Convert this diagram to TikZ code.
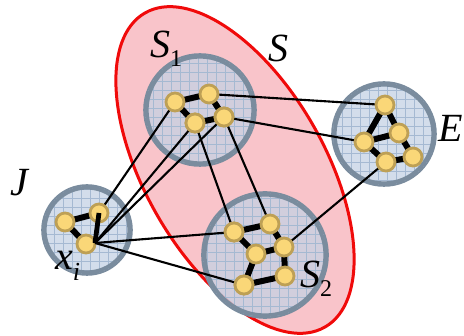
\documentclass[tikz,border=0pt]{standalone}
\usepackage{fontspec}
\setmainfont{Liberation Serif}
\newfontfamily\labfont{Liberation Serif}
\usetikzlibrary{shapes.geometric}
\definecolor{ellfill}{RGB}{249,196,202}
\definecolor{ellline}{RGB}{240,10,10}
\definecolor{cfill}{RGB}{196,210,228}
\definecolor{cline}{RGB}{122,140,158}
\definecolor{cgrid}{RGB}{165,185,210}
\definecolor{vfill}{RGB}{250,215,120}
\definecolor{vline}{RGB}{190,160,85}
\newcommand{\sublab}[2]{\textit{#1}\raisebox{-9pt}{\fontsize{24}{24}\selectfont #2}}
\begin{document}
\begin{tikzpicture}[x=1pt,y=-1pt,
  setell/.style={draw=ellline, line width=3pt, fill=ellfill, ellipse, inner sep=0pt,
    minimum width=362pt, minimum height=180pt},
  cluster/.style={circle, draw=cline, line width=3.6pt, fill=cfill, fill opacity=0.75,
    draw opacity=1, inner sep=0pt},
  vtx/.style={circle, draw=vline, line width=2.8pt, fill=vfill, inner sep=0pt, minimum size=18pt},
  thin/.style={line width=2.1pt, black},
  thick/.style={line width=6pt, black},
  lab/.style={font=\labfont\fontsize{40}{40}\selectfont, anchor=base west, inner sep=0pt}]
\useasboundingbox (0,0) rectangle (464,336);
% set S
\node[setell, rotate=-60.2] (S) at (235,170) {};
% clusters
\foreach \n/\x/\y/\r in {S1c/200/110/55, Ec/384/134/51, Jc/87/230/44, S2c/265/255/62}{
  \node[cluster, minimum size=2*\r pt] (\n) at (\x,\y) {};
  \begin{scope}
    \clip (\x,\y) circle [radius=\r pt];
    \draw[cgrid, line width=0.5pt, step=9pt] (\x-\r,\y-\r) grid (\x+\r,\y+\r);
  \end{scope}
  \draw[cline, line width=3.6pt] (\x,\y) circle [radius=\r pt-1.8pt];
}
% vertices (positions)
\coordinate (A) at (175,102);
\coordinate (B) at (209,94);
\coordinate (C) at (195,123);
\coordinate (D) at (224,117);
\coordinate (E1) at (385,105);
\coordinate (E2) at (364,142);
\coordinate (E3) at (399,133);
\coordinate (E4) at (386,162);
\coordinate (E5) at (413,157);
\coordinate (J1) at (65,222);
\coordinate (J2) at (99,213);
\coordinate (J3) at (86,244);
\coordinate (P1) at (234,232);
\coordinate (P2) at (270,224);
\coordinate (P3) at (256,254);
\coordinate (P4) at (284,247);
\coordinate (P5) at (285,276);
\coordinate (P6) at (244,285);
% inter-cluster thin edges
\draw[thin] (A) -- (J2);
\draw[thin] (B) -- (E1);
\draw[thin] (D) -- (E2);
\draw[thin] (C) -- (P1);
\draw[thin] (D) -- (P2);
\draw[thin] (P4) -- (E4);
% intra-cluster thick edges
\draw[thick] (A) -- (B) (A) -- (C) (B) -- (D) (C) -- (D);
\draw[thick] (E1) -- (E2) (E1) -- (E3) (E2) -- (E3) (E2) -- (E4) (E3) -- (E5) (E4) -- (E5);
\draw[thick] (J1) -- (J2) (J1) -- (J3);
\draw[thick] (P1) -- (P2) (P1) -- (P3) (P2) -- (P4) (P3) -- (P4) (P3) -- (P6) (P4) -- (P5) (P5) -- (P6);
% vertex nodes
\foreach \v in {A,B,C,D,E1,E2,E3,E4,E5,J1,J2,J3,P1,P2,P3,P4,P5,P6}{
  \node[vtx] (n\v) at (\v) {};
}
% edges of x_i drawn on top
\coordinate (xi) at (95,243);
\draw[thick, line width=4.8pt] (nJ2.center) -- (xi);
\draw[thin] (xi) -- (nC.center);
\draw[thin] (xi) -- (nD.center);
\draw[thin] (xi) -- (nP1.center);
\draw[thin] (xi) -- (nP6.center);
\node[vtx] at (C) {};
\node[vtx] at (D) {};
\node[vtx] at (P1) {};
\node[vtx] at (P6) {};
% labels
\node[lab] (lS1) at (150,58) {\sublab{S}{1}};
\node[lab] (lS) at (268,62) {\textit{S}};
\node[lab] (lE) at (438,142) {\textit{E}};
\node[lab] (lJ) at (10,196) {\textit{J}};
\node[lab] (lx) at (55,270) {\textit{x}\raisebox{-11pt}{\fontsize{26}{26}\selectfont\itshape i}};
\node[lab] (lS2) at (300,288) {\sublab{S}{2}};
\end{tikzpicture}
\end{document}
